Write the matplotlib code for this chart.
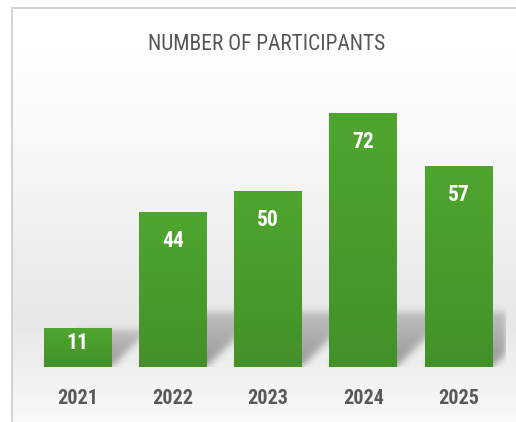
import matplotlib
matplotlib.use("Agg")
import matplotlib.pyplot as plt
import numpy as np
from matplotlib import font_manager as fm

years = ["2021", "2022", "2023", "2024", "2025"]
participants = [11, 44, 50, 72, 57]
title = "NUMBER OF PARTICIPANTS"

# pick a condensed font if one is installed
entries = fm.fontManager.ttflist
names = {f.name for f in entries}
family = "DejaVu Sans"
stretch = "normal"
for cand in ["Roboto Condensed", "Liberation Sans Narrow", "Open Sans Condensed"]:
    if cand in names:
        family = cand
        break
else:
    if any(f.name == "DejaVu Sans" and f.stretch == "condensed" for f in entries):
        stretch = "condensed"

W, H = 516, 422
fig = plt.figure(figsize=(W / 100, H / 100), dpi=100)
fig.patch.set_facecolor("white")
fig.patch.set_edgecolor("none")

# background panel with vertical gradient (drawn as thin bands)
bg = fig.add_axes([12 / W, 0, 1 - 12 / W + 0.03, 1 - 8 / H])
bg.set_xlim(0, 1)
bg.set_ylim(0, 1)
grad = np.concatenate([np.linspace(1.0, 0.985, 25), np.linspace(0.985, 0.905, 50),
                       np.linspace(0.905, 0.975, 25)])
n = len(grad)
for i, g in enumerate(grad):
    y_hi = 1 - i / n
    y_lo = 1 - (i + 1) / n
    bg.axhspan(y_lo - 0.001, y_hi, color=(g, g, g), lw=0)
for s in ["right", "bottom"]:
    bg.spines[s].set_visible(False)
for s in ["left", "top"]:
    bg.spines[s].set_color("#d2d2d2")
    bg.spines[s].set_linewidth(1.4)
    bg.spines[s].set_zorder(5)
bg.set_xticks([])
bg.set_yticks([])

# main plotting axes
x0, x1 = 30 / W, 506 / W
bottom_px = 367
px_per_unit = 254 / 72
ax_h_px = bottom_px - 60
ax = fig.add_axes([x0, (H - bottom_px) / H, x1 - x0, ax_h_px / H])
ymax = ax_h_px / px_per_unit
ax.patch.set_alpha(0)
xs = np.arange(len(years))
bw = 0.71

# soft cast shadows (skewed copy of each bar, blurred)
ax_w_px = int(round((x1 - x0) * W))
ny, nx = ax_h_px, ax_w_px
xp = np.arange(nx) + 0.5
yp = np.arange(ny) + 0.5
XX, YY = np.meshgrid(xp, yp)
unit_px_x = nx / 5.0
mask = np.zeros((ny, nx))
for x, v in zip(xs, participants):
    left = (x - bw / 2 + 0.5) * unit_px_x
    right = (x + bw / 2 + 0.5) * unit_px_x
    hs = min(v * px_per_unit * 0.95, 55)
    u = XX - 1.0 * YY
    inside = (u > left) & (u < right) & (YY < hs) & (YY > 1)
    wt = np.clip(1.0 - 0.5 * (YY / hs), 0, 1)
    mask = np.maximum(mask, inside * wt)


def blur(a, sigma):
    r = int(3 * sigma)
    k = np.exp(-0.5 * (np.arange(-r, r + 1) / sigma) ** 2)
    k /= k.sum()
    a = np.apply_along_axis(lambda m: np.convolve(m, k, mode="same"), 0, a)
    a = np.apply_along_axis(lambda m: np.convolve(m, k, mode="same"), 1, a)
    return a


mask = blur(mask, 3.5)
shadow = np.zeros((ny, nx, 4))
shadow[..., :3] = 0.48
shadow[..., 3] = np.clip(mask * 0.75, 0, 1)
ax.imshow(shadow, extent=[-0.5, 4.5, 0, ymax], origin="lower", aspect="auto", zorder=1,
          interpolation="bilinear")

bars = ax.bar(xs, participants, width=bw, color="#4a9e2c", edgecolor="none", zorder=2)
# subtle vertical gradient in the bars
gcol = np.linspace(0, 1, 64)[:, None]
top_c = np.array([0x4f, 0xa6, 0x2f]) / 255
bot_c = np.array([0x44, 0x91, 0x29]) / 255
gimg = (top_c[None, None, :] * gcol[..., None] + bot_c[None, None, :] * (1 - gcol[..., None]))
for b in bars:
    bx, by, bwid, bht = b.get_x(), b.get_y(), b.get_width(), b.get_height()
    im = ax.imshow(gimg, extent=[bx, bx + bwid, by, by + bht], origin="lower", aspect="auto",
                   zorder=2.5, interpolation="bilinear")
    im.set_clip_path(b)
ax.set_xlim(-0.5, 4.5)
ax.set_ylim(0, ymax)

for x, v in zip(xs, participants):
    off = min(27, 0.32 * v * px_per_unit) / px_per_unit
    ax.text(x, v - off, str(v), ha="center", va="center_baseline", color="white", fontsize=15.5,
            fontweight="bold", family=family, fontstretch=stretch, zorder=3)

ax.set_xticks(xs)
ax.set_xticklabels(years, fontsize=14.5, fontweight="bold", color="#595959", family=family,
                   fontstretch=stretch)
ax.tick_params(axis="x", length=0, pad=16)
ax.set_yticks([])
for s in ax.spines.values():
    s.set_visible(False)

fig.text(267 / W, 1 - 45 / H, title, ha="center", va="center", fontsize=15.5,
         color="#555555", family=family, fontstretch=stretch)

fig.savefig("out.png", dpi=100, facecolor="white")
